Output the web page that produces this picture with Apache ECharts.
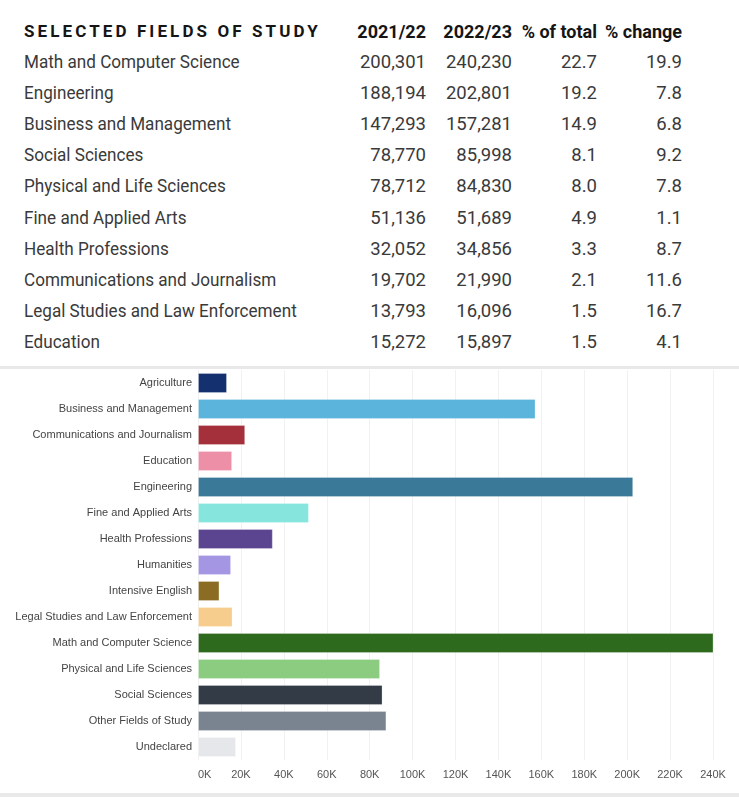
<!DOCTYPE html>
<html>
<head>
<meta charset="utf-8">
<script src="https://cdn.jsdelivr.net/npm/echarts@6/dist/echarts.min.js"></script>
<style>
  html, body { margin: 0; padding: 0; background: #ffffff; }
  #page { position: relative; width: 739px; height: 797px; overflow: hidden; background: #fff; }
  #table { position: absolute; left: 0; top: 0; width: 739px; height: 366px; font-family: Roboto, "Noto Sans", sans-serif; }
  .cell { position: absolute; height: 31px; line-height: 31px; white-space: nowrap; font-size: 18.5px; color: #3a3a3a; }
  .name { transform: scaleX(0.925); transform-origin: 0 50%; }
  .hdr { font-weight: bold; color: #151515; font-size: 18px; }
  .sep { position: absolute; left: 0; width: 739px; background: #e9e9e9; }
  #chart { position: absolute; left: 0; top: 369px; width: 739px; height: 424px; }
</style>
</head>
<body>
<div id="page">
  <div id="table"></div>
  <div class="sep" style="top:366px;height:3px;"></div>
  <div id="chart"></div>
  <div class="sep" style="top:793px;height:4px;"></div>
</div>
<script>
// ---- Table data ----
const tableTitle = "SELECTED FIELDS OF STUDY";
const tableHeaders = ["2021/22", "2022/23", "% of total", "% change"];
const tableFields = [
  "Math and Computer Science", "Engineering", "Business and Management", "Social Sciences",
  "Physical and Life Sciences", "Fine and Applied Arts", "Health Professions",
  "Communications and Journalism", "Legal Studies and Law Enforcement", "Education"
];
const students2122 = ["200,301", "188,194", "147,293", "78,770", "78,712", "51,136", "32,052", "19,702", "13,793", "15,272"];
const students2223 = ["240,230", "202,801", "157,281", "85,998", "84,830", "51,689", "34,856", "21,990", "16,096", "15,897"];
const pctOfTotal = ["22.7", "19.2", "14.9", "8.1", "8.0", "4.9", "3.3", "2.1", "1.5", "1.5"];
const pctChange = ["19.9", "7.8", "6.8", "9.2", "7.8", "1.1", "8.7", "11.6", "16.7", "4.1"];

// ---- Chart data ----
const chartCategories = [
  "Agriculture", "Business and Management", "Communications and Journalism", "Education",
  "Engineering", "Fine and Applied Arts", "Health Professions", "Humanities", "Intensive English",
  "Legal Studies and Law Enforcement", "Math and Computer Science", "Physical and Life Sciences",
  "Social Sciences", "Other Fields of Study", "Undeclared"
];
const chartValues = [13500, 157281, 21990, 15897, 202801, 51689, 34856, 15400, 10000, 16096, 240230, 84830, 85998, 87800, 17700];
const chartColors = [
  "#14306e", "#5ab4dc", "#a3303a", "#ee8fa8", "#3a7a98", "#86e6de", "#5b4590", "#a496e3",
  "#8a6d22", "#f6cd8c", "#2e6a1e", "#8ccc80", "#333c46", "#7a8491", "#e6e7ea"
];
const xTicksMax = 240000;
const xTicksStep = 20000;

// ---- Build table ----
const tableEl = document.getElementById('table');
const colRight = [426, 512, 597, 682];
function addCell(text, left, right, top, cls) {
  const d = document.createElement('div');
  d.className = 'cell' + (cls ? ' ' + cls : '');
  d.textContent = text;
  d.style.top = top + 'px';
  if (right !== null) { d.style.right = (739 - right) + 'px'; d.style.textAlign = 'right'; }
  else d.style.left = left + 'px';
  tableEl.appendChild(d);
  return d;
}
const headerTop = 16;
const t = addCell(tableTitle, 24, null, headerTop, 'hdr');
t.style.letterSpacing = '3.1px';
t.style.fontSize = '17px';
tableHeaders.forEach((h, i) => addCell(h, 0, colRight[i], headerTop, 'hdr'));
tableFields.forEach((f, r) => {
  const top = 47 + r * 31.1;
  addCell(f, 24, null, top, 'name');
  addCell(students2122[r], 0, colRight[0], top);
  addCell(students2223[r], 0, colRight[1], top);
  addCell(pctOfTotal[r], 0, colRight[2], top);
  addCell(pctChange[r], 0, colRight[3], top);
});

// ---- Chart ----
const chart = echarts.init(document.getElementById('chart'));
chart.setOption({
  animation: false,
  textStyle: { fontFamily: "Liberation Sans, Arial, sans-serif" },
  grid: { left: 198, right: 26, top: 1, bottom: 33, containLabel: false },
  xAxis: {
    type: 'value', min: 0, max: xTicksMax, interval: xTicksStep,
    axisLine: { show: false }, axisTick: { show: false },
    splitLine: { show: true, lineStyle: { color: '#f1f1f1', width: 1 } },
    axisLabel: {
      color: '#555', fontSize: 11, margin: 9, alignMinLabel: 'left',
      formatter: v => (v / 1000) + 'K'
    }
  },
  yAxis: {
    type: 'category', data: chartCategories, inverse: true,
    axisLine: { show: false }, axisTick: { show: false },
    axisLabel: { color: '#444', fontSize: 11, margin: 6 }
  },
  series: [{
    type: 'bar',
    barWidth: 20,
    data: chartValues.map((v, i) => ({
      value: v,
      itemStyle: { color: chartColors[i], borderColor: 'rgba(255,255,255,0.25)', borderWidth: 1 }
    }))
  }]
});
</script>
</body>
</html>
